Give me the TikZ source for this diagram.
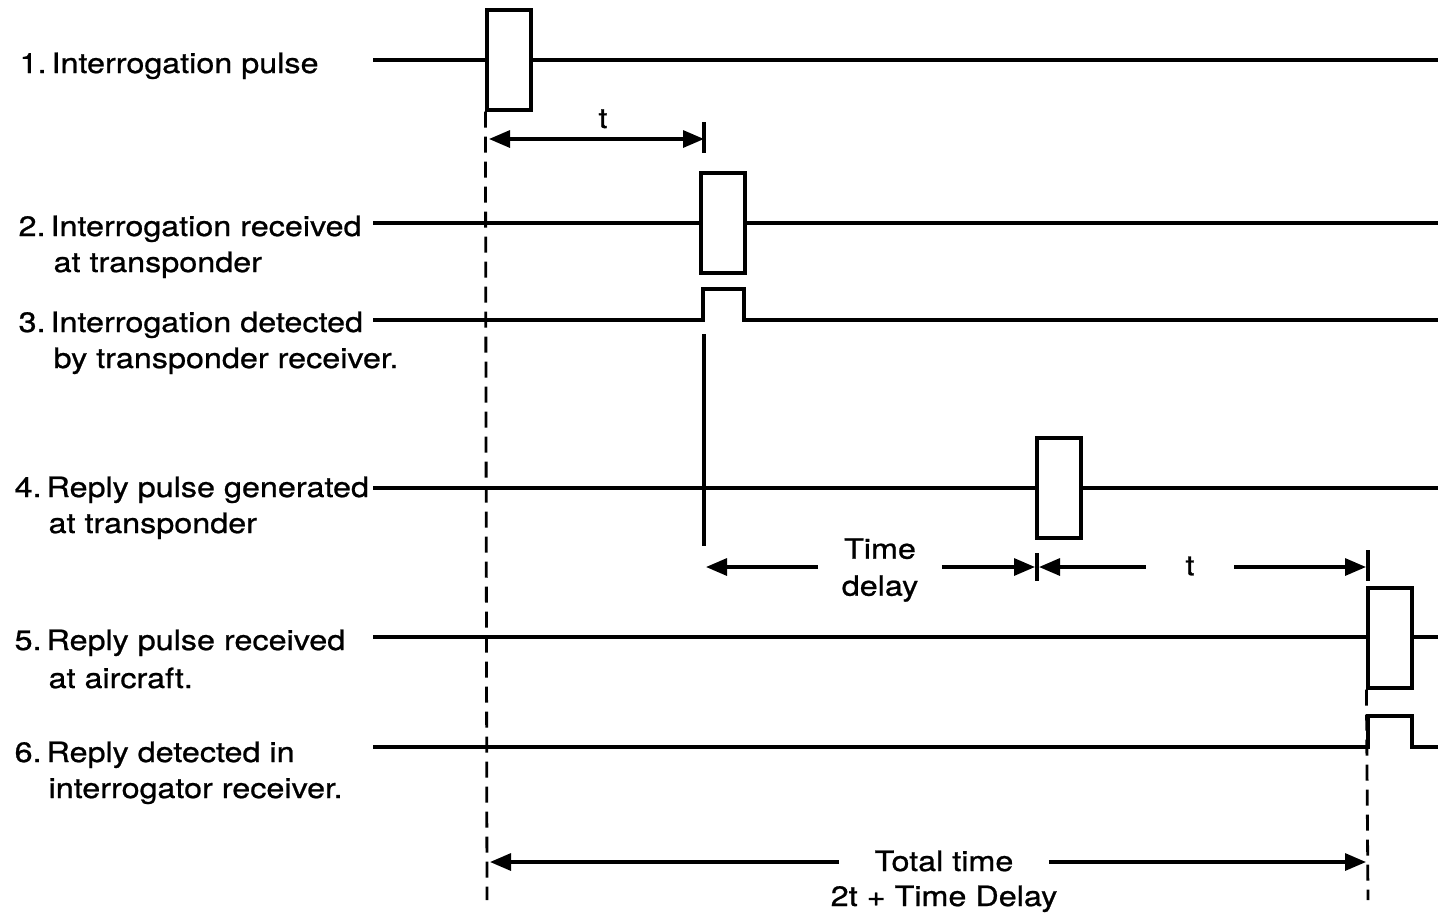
\documentclass[tikz,border=0pt]{standalone}
\usepackage{fontspec}
\setmainfont{TeX Gyre Heros}[FakeStretch=1.155,FakeBold=0.8]
\usetikzlibrary{arrows.meta}
\begin{document}
\begin{tikzpicture}[x=1pt,y=-1pt,line width=3.2pt,line cap=butt,
  pulse/.style={draw,line width=3.2pt,minimum width=44pt,minimum height=100pt,inner sep=0pt},
  lbl/.style={anchor=base west,inner sep=0pt,font=\fontsize{28}{36}\selectfont},
  txt/.style={inner sep=0pt,font=\fontsize{28}{37}\selectfont,align=center},
  dim/.style={line width=3.2pt,-{Triangle[length=21pt,width=17pt]}},
  dimboth/.style={line width=3.2pt,{Triangle[length=21pt,width=17pt]}-{Triangle[length=21pt,width=17pt]}},
  guide/.style={line width=2.8pt,dash pattern=on 16pt off 9pt}]
\useasboundingbox (0,0) rectangle (1438,914);

% ---- labels ----
\node[lbl] (l1)  at (18,73)  {1.\hspace{5pt}Interrogation pulse};
\node[lbl] (l2a) at (17,236) {2.\hspace{5pt}Interrogation received};
\node[lbl] (l2b) at (52,272) {at transponder};
\node[lbl] (l3a) at (17,332) {3.\hspace{5pt}Interrogation detected};
\node[lbl] (l3b) at (52,368) {by transponder receiver.};
\node[lbl] (l4a) at (13,497) {4.\hspace{5pt}Reply pulse generated};
\node[lbl] (l4b) at (47,533) {at transponder};
\node[lbl] (l5a) at (13,650) {5.\hspace{5pt}Reply pulse received};
\node[lbl] (l5b) at (47,688) {at aircraft.};
\node[lbl] (l6a) at (13,762) {6.\hspace{5pt}Reply detected in};
\node[lbl] (l6b) at (47,798) {interrogator receiver.};

% ---- row 1 ----
\coordinate (s1) at (373,60); \coordinate (e1) at (1438,60);
\node[pulse] (p1) at (509,60) {};
\draw (s1) -- (p1.west); \draw (p1.east) -- (e1);

% ---- row 2 ----
\coordinate (s2) at (373,223); \coordinate (e2) at (1438,223);
\node[pulse] (p2) at (723,223) {};
\draw (s2) -- (p2.west); \draw (p2.east) -- (e2);

% ---- row 3 ----
\coordinate (s3) at (373,320); \coordinate (e3) at (1438,320);
\draw (s3) -- (703,320) -- (703,289) -- (744,289) -- (744,320) -- (e3);

% ---- row 4 ----
\coordinate (s4) at (373,488); \coordinate (e4) at (1438,488);
\node[pulse] (p4) at (1059,488) {};
\draw (s4) -- (p4.west); \draw (p4.east) -- (e4);

% ---- row 5 ----
\coordinate (s5) at (373,637); \coordinate (e5) at (1438,637);
\node[pulse] (p5) at (1390,638) {};
\draw (s5) -- (p5.west |- s5); \draw (p5.east |- e5) -- (e5);

% ---- row 6 ----
\coordinate (s6) at (373,747); \coordinate (e6) at (1438,747);
\draw (s6) -- (1368,747) -- (1368,716) -- (1412,716) -- (1412,747) -- (e6);

% ---- guides ----
\coordinate (g1) at (487,900);
\draw[guide] (p1.south west) -- (g1);
\coordinate (g5) at (1368,900);
\draw[guide] (p5.south west) -- (g5);
\coordinate (v3) at (704,334); \coordinate (v4) at (704,546);
\draw (v3) -- (v4);

% ---- t (first) ----
\coordinate (ta) at (489,139); \coordinate (tb) at (704,139);
\draw[dimboth] (ta) -- (tb);
\draw (704,122) -- (704,153);
\node[txt,anchor=base] (tlab1) at (603,128) {t};

% ---- time delay ----
\coordinate (da) at (706,567); \coordinate (db) at (1035,567);
\node[txt,inner xsep=22pt] (td) at (880,570) {Time\\delay};
\draw[dim] (td.west |- da) -- (da);
\draw[dim] (td.east |- db) -- (db);
\draw (1037,553) -- (1037,581);

% ---- t (second) ----
\coordinate (ua) at (1039,567); \coordinate (ub) at (1366,567);
\node[txt,inner xsep=38pt] (tlab2) at (1190,566) {t};
\draw[dim] (tlab2.west |- ua) -- (ua);
\draw[dim] (tlab2.east |- ub) -- (ub);
\draw (1368,550) -- (1368,581);

% ---- total time ----
\coordinate (wa) at (490,862); \coordinate (wb) at (1366,862);
\node[txt,inner xsep=34pt] (tt) at (944,861) {Total time};
\node[txt,anchor=base] (tt2) at (944,906) {2t + Time Delay};
\draw[dim] (tt.west |- wa) -- (wa);
\draw[dim] (tt.east |- wb) -- (wb);
\end{tikzpicture}
\end{document}
